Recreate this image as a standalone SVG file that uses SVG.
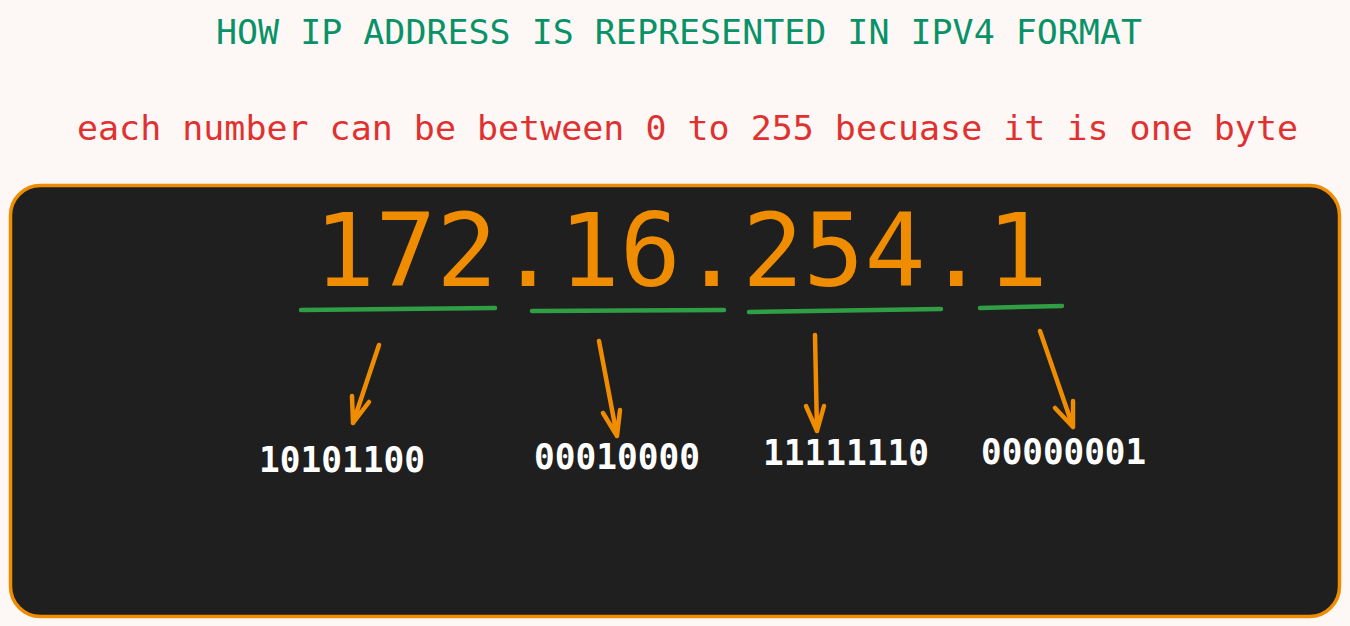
<svg xmlns="http://www.w3.org/2000/svg" width="1350" height="626" viewBox="0 0 1350 626">
<style>
.mono{font-family:"DejaVu Sans Mono","Liberation Mono",monospace}
.bin{font-family:"DejaVu Sans Mono","Liberation Mono",monospace;font-weight:bold;font-size:36px;fill:#ffffff}
.arr{fill:none;stroke:#f08c00;stroke-width:4.5;stroke-linecap:round;stroke-linejoin:round}
.ul{fill:none;stroke:#2f9e44;stroke-width:4.5;stroke-linecap:round}
</style>
<rect x="0" y="0" width="1350" height="626" fill="#fdf8f5"/>
<g id="title">
<text class="mono" x="216" y="44" font-size="33" fill="#099268" textLength="926" lengthAdjust="spacingAndGlyphs">HOW IP ADDRESS IS REPRESENTED IN IPV4 FORMAT</text>
</g>
<g id="subtitle">
<text class="mono" x="77" y="140" font-size="34" fill="#e03131" textLength="1221" lengthAdjust="spacingAndGlyphs">each number can be between 0 to 255 becuase it is one byte</text>
</g>
<g id="panel">
<rect x="10.5" y="185.5" width="1329" height="431" rx="30" ry="30" fill="#1f1f1f" stroke="#f08c00" stroke-width="3.5"/>
</g>
<g id="ip">
<text class="mono" x="314" y="286" font-size="102" fill="#f08c00" textLength="734" lengthAdjust="spacingAndGlyphs">172.16.254.1</text>
</g>
<g id="underlines">
<path class="ul" d="M301 310 L495 308"/>
<path class="ul" d="M532 311 L724 310"/>
<path class="ul" d="M749 312 L941 309"/>
<path class="ul" d="M980 308 L1062 306"/>
</g>
<g id="connectors">
<path class="arr" d="M379 345 L353 423 M352 396 L353 423 L369 402"/>
<path class="arr" d="M599 341 L617 436 M603 413 L617 436 L620 410"/>
<path class="arr" d="M815 335 L817 431 M806 406 L817 431 L824 406"/>
<path class="arr" d="M1040 331 L1073 427 M1055 408 L1073 427 L1073 401"/>
</g>
<g id="b1"><text class="bin" x="259" y="472" textLength="166" lengthAdjust="spacingAndGlyphs">10101100</text></g>
<g id="b2"><text class="bin" x="534" y="469" textLength="166" lengthAdjust="spacingAndGlyphs">00010000</text></g>
<g id="b3"><text class="bin" x="763" y="465" textLength="166" lengthAdjust="spacingAndGlyphs">11111110</text></g>
<g id="b4"><text class="bin" x="981" y="464" textLength="165" lengthAdjust="spacingAndGlyphs">00000001</text></g>
</svg>
